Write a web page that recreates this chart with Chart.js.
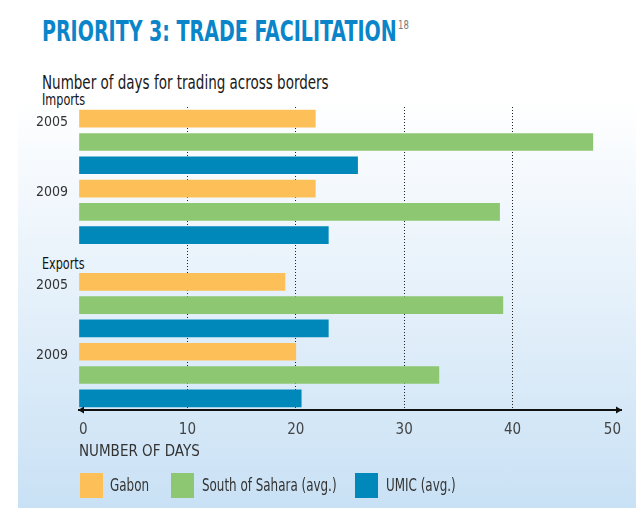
<!DOCTYPE html>
<html>
<head>
<meta charset="utf-8">
<script src="https://cdn.jsdelivr.net/npm/chart.js@4.4.0/dist/chart.umd.min.js"></script>
<style>
  html, body { margin: 0; padding: 0; background: #fff; }
  body { width: 636px; height: 508px; position: relative; overflow: hidden;
         font-family: 'DejaVu Sans Condensed', 'DejaVu Sans', sans-serif; }
  #panel { position: absolute; left: 18px; top: 0; width: 618px; height: 508px;
           background: linear-gradient(to bottom, #fff 0px, #fff 100px, #c9e1f5 508px); }
  .narrow { position: absolute; white-space: nowrap; transform-origin: 0 0; }
  #title { left: 42px; top: 14px; font-size: 29px; font-weight: bold; color: #0a85c9;
           transform: scaleX(0.73); }
  #title sup { font-size: 13px; font-weight: normal; color: #777; vertical-align: 12px; margin-left: 2px; }
  #subtitle { left: 42px; top: 70px; font-size: 20px; color: #1a1a1a; transform: scaleX(0.75); }
  .heading { left: 42px; font-size: 16px; color: #111; transform: scaleX(0.78); }
  .box { position: absolute; top: 473px; width: 23px; height: 25px; }
  .ltext { top: 475px; font-size: 17px; color: #333; transform: scaleX(0.78); }
  #wrap { position: absolute; left: 0; top: 0; width: 636px; height: 508px; }
</style>
</head>
<body>
<div id="panel"></div>
<div id="title" class="narrow">PRIORITY 3: TRADE FACILITATION<sup>18</sup></div>
<div id="subtitle" class="narrow">Number of days for trading across borders</div>
<div class="narrow heading" style="top: 90px;">Imports</div>
<div class="narrow heading" style="top: 254px;">Exports</div>
<div id="wrap"><canvas id="chart" width="636" height="508"></canvas></div>
<div id="legend"></div>
<script>
// données (nombre de jours)
const years = ['2005', '2009'];
const seriesNames = ['Gabon', 'South of Sahara (avg.)', 'UMIC (avg.)'];
const seriesColors = ['#fdbf57', '#8dc771', '#0088bb'];
const importsGabon = [21.8, 21.8];
const importsSahara = [47.4, 38.8];
const importsUmic = [25.7, 23.0];
const exportsGabon = [19.0, 20.0];
const exportsSahara = [39.1, 33.2];
const exportsUmic = [23.0, 20.5];
const dayTicks = [0, 10, 20, 30, 40, 50];

// one row per bar, with an empty row between Imports and Exports
const sections = [
    [importsGabon, importsSahara, importsUmic],
    [exportsGabon, exportsSahara, exportsUmic]
];
const rowLabels = [];
const rowData = seriesNames.map(() => []);
sections.forEach((section, si) => {
    if (si > 0) {
        rowLabels.push('');
        rowData.forEach(d => d.push(null));
    }
    years.forEach((year, yi) => {
        section.forEach((values, k) => {
            rowLabels.push(k === 0 ? year : '');
            rowData.forEach((d, j) => d.push(j === k ? values[yi] : null));
        });
    });
});

const FONT = "'DejaVu Sans Condensed', 'DejaVu Sans', sans-serif";

// petites flèches aux deux bouts de l'axe
const axisArrows = {
    id: 'axisArrows',
    afterDraw(chart) {
        const { ctx, chartArea } = chart;
        const y = chartArea.bottom;
        ctx.save();
        ctx.fillStyle = '#111';
        ctx.beginPath();
        ctx.moveTo(chartArea.left - 1, y);
        ctx.lineTo(chartArea.left + 5, y - 3.5);
        ctx.lineTo(chartArea.left + 5, y + 3.5);
        ctx.closePath();
        ctx.fill();
        ctx.beginPath();
        ctx.moveTo(chartArea.right + 1, y);
        ctx.lineTo(chartArea.right - 5, y - 3.5);
        ctx.lineTo(chartArea.right - 5, y + 3.5);
        ctx.closePath();
        ctx.fill();
        ctx.restore();
    }
};

new Chart(document.getElementById('chart'), {
    type: 'bar',
    data: {
        labels: rowLabels,
        datasets: seriesNames.map((name, i) => ({
            label: name,
            data: rowData[i],
            backgroundColor: seriesColors[i],
            barThickness: 17,
            borderWidth: 0
        }))
    },
    options: {
        indexAxis: 'y',
        responsive: false,
        animation: false,
        layout: { padding: { left: 20, right: 15, top: 107, bottom: 49 } },
        plugins: {
            legend: { display: false },
            tooltip: { enabled: false }
        },
        scales: {
            x: {
                stacked: true,
                min: 0,
                max: 50,
                afterBuildTicks: s => { s.ticks = dayTicks.map(v => ({ value: v })); },
                afterFit: s => { s.height = 49; },
                grid: {
                    drawTicks: false,
                    lineWidth: 1,
                    color: c => (c.tick && (c.tick.value === 0 || c.tick.value === 50)) ? 'rgba(0,0,0,0)' : '#222'
                },
                border: { display: true, color: '#111', width: 2, dash: [1, 2] },
                ticks: {
                    align: 'inner',
                    padding: 11,
                    color: '#444',
                    font: { family: FONT, size: 15 }
                },
                title: {
                    display: true,
                    text: 'NUMBER OF DAYS',
                    align: 'start',
                    color: '#333',
                    padding: { top: 2, bottom: -2 },
                    font: { family: FONT, size: 15 }
                }
            },
            y: {
                stacked: true,
                grid: { display: false, drawTicks: false },
                border: { display: false },
                afterFit: s => {
                    s.width = 59;
                    s.paddingTop = 0;
                    s.paddingBottom = 0;
                },
                ticks: {
                    autoSkip: false,
                    padding: 11,
                    labelOffset: 4,
                    color: '#333',
                    font: { family: FONT, size: 14 }
                }
            }
        }
    },
    plugins: [axisArrows]
});

// légende en HTML, aux positions de l'original
const boxLeft = [80, 171, 355];
const textLeft = [110, 202, 386];
const legend = document.getElementById('legend');
seriesNames.forEach((name, i) => {
    const box = document.createElement('div');
    box.className = 'box';
    box.style.left = boxLeft[i] + 'px';
    box.style.background = seriesColors[i];
    legend.appendChild(box);
    const txt = document.createElement('div');
    txt.className = 'narrow ltext';
    txt.style.left = textLeft[i] + 'px';
    txt.textContent = name;
    legend.appendChild(txt);
});
</script>
</body>
</html>
